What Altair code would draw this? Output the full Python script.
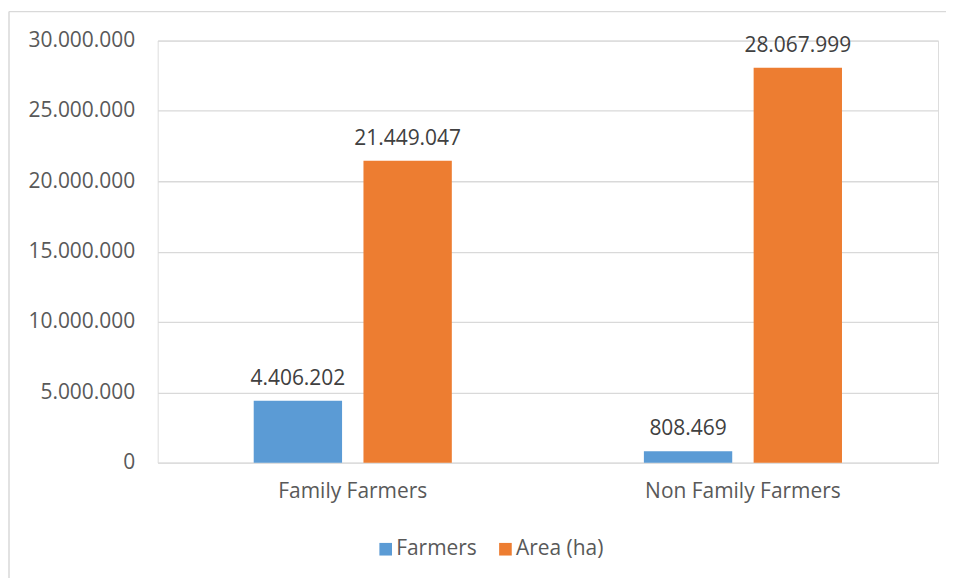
import altair as alt
import pandas as pd

categories = ["Family Farmers", "Non Family Farmers"]
series = ["Farmers", "Area (ha)"]
farmers = [4406202, 808469]
area = [21449047, 28067999]
colors = ["#5B9BD5", "#ED7D31"]
y_ticks = [0, 5000000, 10000000, 15000000, 20000000, 25000000, 30000000]

rows = []
for i, c in enumerate(categories):
    rows.append({"category": c, "series": series[0], "value": farmers[i]})
    rows.append({"category": c, "series": series[1], "value": area[i]})
df = pd.DataFrame(rows)

FONT = "Open Sans"
FS = 21
W, H = 782, 423

base = alt.Chart(df).encode(
    x=alt.X("category:N", sort=categories, title=None,
            scale=alt.Scale(paddingInner=0, paddingOuter=0),
            axis=alt.Axis(labelAngle=0, labelFontSize=FS, labelColor="#595959",
                          labelFont=FONT, ticks=False, domain=False, labelPadding=18,
                          labelLimit=0, grid=False)),
    xOffset=alt.XOffset("series:N", sort=series,
                        scale=alt.Scale(paddingInner=0.195, paddingOuter=0.875)),
)

bars = base.mark_bar().encode(
    y=alt.Y("value:Q", title=None,
            scale=alt.Scale(domain=[0, 30000000], nice=False),
            axis=alt.Axis(values=y_ticks, labelExpr="format(datum.value, ',')",
                          labelFontSize=FS,
                          labelColor="#595959", labelFont=FONT, ticks=False,
                          domain=False, labelPadding=23, gridColor="#d9d9d9",
                          gridWidth=1.3)),
    color=alt.Color("series:N", sort=series,
                    scale=alt.Scale(domain=series, range=colors),
                    legend=alt.Legend(title=None, orient="none", direction="horizontal",
                                      legendX=218, legendY=499,
                                      symbolType="square", symbolSize=160,
                                      symbolStrokeWidth=0, labelFontSize=FS,
                                      labelColor="#595959", labelFont=FONT,
                                      labelOffset=0, columnPadding=18)),
)

labels = base.mark_text(baseline="alphabetic", dy=-16, fontSize=FS,
                        color="#404040", font=FONT).encode(
    y=alt.Y("value:Q"),
    text=alt.Text("value:Q", format=","),
)

frame_data = alt.Data(values=[{"k": 1}])
left_line = alt.Chart(frame_data).mark_rule(color="#d9d9d9", strokeWidth=1.5).encode(
    x=alt.value(-149), y=alt.value(-29), y2=alt.value(560))
top_line = alt.Chart(frame_data).mark_rule(color="#d9d9d9", strokeWidth=1.5).encode(
    x=alt.value(-149), x2=alt.value(790), y=alt.value(-29))

chart = alt.layer(bars, labels, left_line, top_line).properties(
    width=W, height=H,
    padding={"left": 0, "top": 2, "right": 0, "bottom": 0},
    background="white",
).configure_view(stroke=None).configure(
    locale={"number": {"decimal": ",", "thousands": ".", "grouping": [3],
                       "currency": ["", ""]}}
)

chart.save("out.html", embed_options={"renderer": "svg", "actions": False})
